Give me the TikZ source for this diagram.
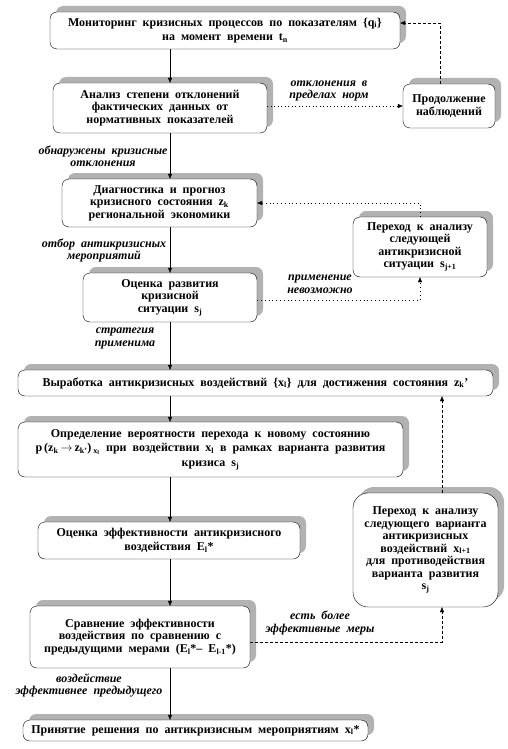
\documentclass[tikz,border=0pt]{standalone}
\usepackage{fontspec}
\setmainfont{Liberation Serif}[WordSpace={2}]
\usepackage{tikz}
\usetikzlibrary{arrows.meta,shadows}

\tikzset{
  blok/.style={draw, thin, rounded corners=7pt, fill=white, align=center,
    font=\fontsize{12}{12.5}\selectfont\bfseries, inner sep=2pt,
    drop shadow={shadow xshift=6pt, shadow yshift=6pt, fill=black!30, opacity=1}},
  shirokiy/.style={font=\fontsize{12}{14.5}\selectfont\bfseries},
  podpis/.style={align=center, font=\fontsize{12}{12.5}\selectfont\bfseries\itshape},
  strelka/.style={-{Triangle[length=5pt,width=4pt]}, thin},
  tochki/.style={strelka, dash pattern=on 1.2pt off 2.3pt, semithick},
  redkie/.style={strelka, dash pattern=on 0.8pt off 3pt},
  shtrih/.style={strelka, dash pattern=on 3pt off 2pt},
}

\begin{document}
\begin{tikzpicture}[x=1pt,y=-1pt]
    \useasboundingbox (0,0) rectangle (508,749);
    % vertical axes of the connectors
    \coordinate (os) at (170,0);
    \coordinate (nabl) at (440,0);
    \coordinate (praviy) at (442,0);

    % boxes
    \node[blok, shirokiy, minimum width=350pt, minimum height=37pt] (monitor) at (225,30.5)
        {Мониторинг кризисных процессов по показателям \{q\textsubscript{i}\}\\на момент времени t\textsubscript{n}};
    \node[blok, minimum width=214pt, minimum height=50pt] (analiz) at (160,108)
        {Анализ степени отклонений\\фактических данных от\\нормативных показателей};
    \node[blok, minimum width=92pt, minimum height=44pt] (prodolzh) at (449,106)
        {Продолжение\\наблюдений};
    \node[blok, minimum width=195pt, minimum height=48pt] (diagn) at (159.5,203)
        {Диагностика и прогноз\\кризисного состояния z\textsubscript{k}\\региональной экономики};
    \node[blok, minimum width=134pt, minimum height=60pt] (perehodS) at (420,247)
        {Переход к анализу\\следующей\\антикризисной\\ситуации s\textsubscript{j+1}};
    \node[blok, minimum width=174pt, minimum height=49pt] (ocenkaS) at (170,297.5)
        {Оценка развития\\кризисной\\ситуации s\textsubscript{j}};
    \node[blok, minimum width=475pt, minimum height=26pt] (vyrab) at (255.5,383)
        {Выработка антикризисных воздействий \{x\textsubscript{l}\} для достижения состояния z\textsubscript{k}'};
    \node[blok, shirokiy, minimum width=385pt, minimum height=55pt] (opredel) at (210.5,449.5)
        {Определение вероятности перехода к новому состоянию\\p\,(z\textsubscript{k}\,$\rightarrow$\,z\textsubscript{k'})\,\textsubscript{x\textsubscript{l}} при воздействии x\textsubscript{l} в рамках варианта развития\\кризиса s\textsubscript{j}};
    \node[blok, shirokiy, minimum width=262pt, minimum height=37pt] (ocenkaE) at (169,540.5)
        {Оценка эффективности антикризисного\\воздействия E\textsubscript{l}*};
    \node[blok, rounded corners=15pt, minimum width=145pt, minimum height=114pt] (perehodX) at (425.5,550)
        {Переход к анализу\\следующего варианта\\антикризисных\\воздействий x\textsubscript{l+1}\\для противодействия\\варианта развития\\s\textsubscript{j}};
    \node[blok, minimum width=220pt, minimum height=62pt] (sravn) at (140,637)
        {Сравнение эффективности\\воздействия по сравнению с\\предыдущими мерами (E\textsubscript{l}*-- E\textsubscript{l-1}*)};
    \node[blok, minimum width=345pt, minimum height=21pt] (prinyat) at (195.5,730.5)
        {Принятие решения по антикризисным мероприятиям x\textsubscript{l}*};

    % labels
    \node[podpis] (lOtkl) at (329,91) {отклонения в\\пределах норм};
    \node[podpis] (lObnar) at (103,156.5) {обнаружены кризисные\\отклонения};
    \node[podpis] (lOtbor) at (104,250.5) {отбор антикризисных\\мероприятий};
    \node[podpis] (lPrimen) at (320,284) {применение\\невозможно};
    \node[podpis] (lStrat) at (125,338.5) {стратегия\\применима};
    \node[podpis] (lEst) at (320,623) {есть более\\эффективные меры};
    \node[podpis] (lVozd) at (89,685.5) {воздействие\\эффективнее предыдущего};

    % main line
    \draw[strelka] (monitor.south -| os) -- (analiz.north -| os);
    \draw[strelka] (analiz.south -| os) -- (diagn.north -| os);
    \draw[strelka] (diagn.south -| os) -- (ocenkaS.north -| os);
    \draw[strelka] (ocenkaS.south -| os) -- (vyrab.north -| os);
    \draw[strelka] (vyrab.south -| os) -- (opredel.north -| os);
    \draw[strelka] (opredel.south -| os) -- (ocenkaE.north -| os);
    \draw[strelka] (ocenkaE.south -| os) -- (sravn.north -| os);
    \draw[strelka] (sravn.south -| os) -- (prinyat.north -| os);

    % side loops
    \draw[tochki] (analiz.east |- prodolzh.west) -- (prodolzh.west);
    \draw[shtrih] (prodolzh.north -| nabl) |- ([yshift=7.5pt]monitor.east);
    \draw[redkie] (perehodS.north) |- (diagn.east);
    \draw[redkie] ([yshift=-2.5pt]ocenkaS.east) -| (perehodS.south);
    \draw[shtrih] ([yshift=-5pt]sravn.east) -| (perehodX.south -| praviy);
    \draw[shtrih] (perehodX.north -| praviy) -- (vyrab.south -| praviy);
\end{tikzpicture}
\end{document}
